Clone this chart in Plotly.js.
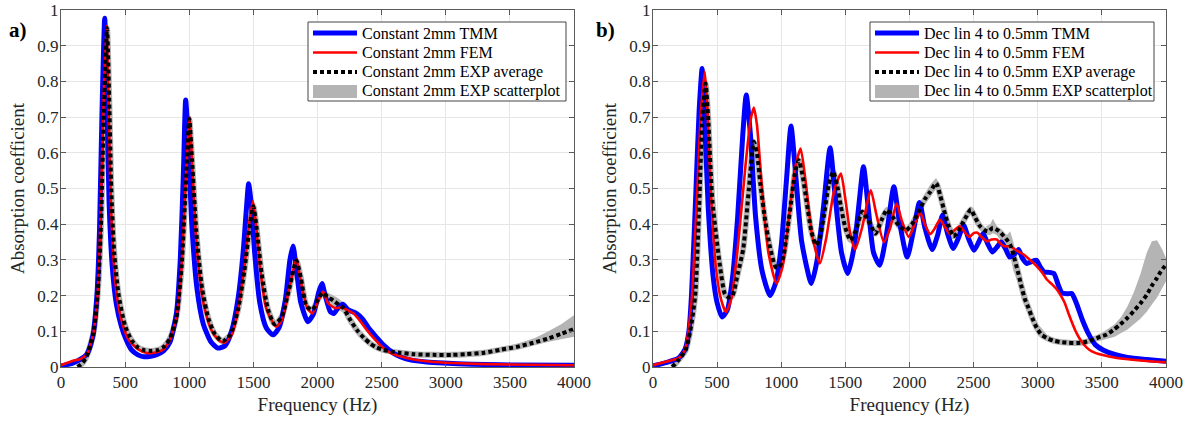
<!DOCTYPE html>
<html>
<head>
<meta charset="utf-8">
<script src="https://cdn.plot.ly/plotly-3.0.1.min.js"></script>
<style>html,body{margin:0;padding:0;background:#fff;}#chart{width:1190px;height:421px;}</style>
</head>
<body>
<div id="chart"></div>
<script>
// ---------------- Panel a) Constant 2mm ----------------
const a_tmm_f = [0,100,200,250,280,300,320,341,360,375,400,430,470,510,550,600,640,700,750,800,850,900,930,955,972,990,1020,1060,1110,1170,1224,1280,1330,1380,1420,1445,1463,1485,1510,1550,1600,1653,1700,1750,1785,1809,1830,1870,1925,1970,2010,2035,2060,2100,2127,2165,2197,2240,2300,2350,2410,2460,2513,2591,2650,2722,2850,2980,3200,3423,4000];
const a_tmm_y = [0.003,0.012,0.035,0.09,0.2,0.38,0.72,0.977,0.72,0.46,0.28,0.18,0.115,0.075,0.048,0.034,0.029,0.03,0.035,0.045,0.07,0.15,0.3,0.55,0.748,0.65,0.4,0.22,0.12,0.07,0.053,0.06,0.1,0.19,0.32,0.44,0.513,0.45,0.32,0.18,0.11,0.09,0.11,0.19,0.3,0.339,0.29,0.18,0.127,0.15,0.21,0.234,0.2,0.155,0.15,0.168,0.176,0.16,0.151,0.135,0.104,0.083,0.062,0.039,0.028,0.02,0.014,0.011,0.008,0.006,0.005];

const a_fem_f = [0,100,150,200,250,285,305,330,354,370,385,410,440,480,530,600,670,750,800,850,900,940,970,1003,1025,1060,1110,1170,1230,1276,1330,1380,1430,1470,1497,1520,1555,1600,1677,1720,1780,1835,1870,1920,1960,2000,2043,2080,2137,2190,2230,2276,2330,2384,2440,2487,2565,2695,2850,3000,3300,4000];
const a_fem_y = [0.005,0.018,0.022,0.035,0.09,0.2,0.38,0.72,0.955,0.75,0.5,0.3,0.19,0.12,0.075,0.05,0.039,0.042,0.05,0.075,0.14,0.28,0.5,0.70,0.55,0.33,0.18,0.105,0.075,0.068,0.09,0.16,0.28,0.41,0.465,0.4,0.27,0.165,0.113,0.13,0.22,0.302,0.24,0.165,0.15,0.18,0.211,0.18,0.165,0.167,0.16,0.151,0.13,0.104,0.08,0.062,0.04,0.025,0.016,0.012,0.008,0.005];

const a_exp_f = [130,170,200,250,285,310,335,359,378,392,415,450,500,550,600,650,700,750,800,850,900,940,972,1000,1022,1055,1100,1150,1200,1260,1320,1380,1430,1470,1500,1525,1565,1615,1665,1720,1780,1835,1870,1915,1960,2005,2040,2080,2124,2165,2202,2250,2306,2360,2410,2460,2513,2580,2643,2750,2902,3050,3163,3300,3423,3550,3683,3800,3900,4000];
const a_exp_y = [0.0,0.012,0.03,0.09,0.2,0.38,0.72,0.949,0.72,0.5,0.32,0.2,0.115,0.075,0.055,0.047,0.045,0.047,0.056,0.08,0.14,0.28,0.5,0.695,0.58,0.38,0.22,0.135,0.092,0.072,0.09,0.16,0.27,0.39,0.45,0.39,0.26,0.16,0.12,0.14,0.22,0.298,0.25,0.17,0.16,0.19,0.208,0.196,0.186,0.175,0.165,0.135,0.104,0.082,0.066,0.055,0.048,0.043,0.04,0.036,0.034,0.034,0.036,0.04,0.048,0.056,0.068,0.08,0.093,0.106];

// scatter band (wide parts)
const a_band1_f  = [2040,2080,2124,2165,2202,2250];
const a_band1_lo = [0.198,0.184,0.172,0.16,0.152,0.125];
const a_band1_hi = [0.218,0.208,0.2,0.192,0.18,0.145];
const a_band2_f  = [3500,3600,3700,3800,3900,4000];
const a_band2_lo = [0.05,0.057,0.063,0.07,0.078,0.085];
const a_band2_hi = [0.058,0.07,0.082,0.1,0.12,0.145];

// ---------------- Panel b) Dec lin 4 to 0.5mm ----------------
const b_tmm_f = [0,100,200,250,280,300,330,360,383,400,430,470,500,538,580,620,660,700,727,760,800,850,912,960,1000,1040,1076,1110,1160,1235,1280,1330,1381,1420,1470,1519,1570,1610,1641,1680,1720,1767,1820,1878,1920,1982,2030,2078,2120,2177,2220,2257,2300,2341,2380,2422,2460,2503,2540,2574,2610,2646,2680,2715,2750,2781,2815,2850,2880,2915,2950,2990,3020,3050,3090,3125,3160,3190,3230,3265,3300,3349,3400,3450,3513,3600,3700,3850,4000];
const b_tmm_y = [0.003,0.012,0.025,0.05,0.1,0.2,0.45,0.72,0.836,0.72,0.45,0.25,0.18,0.14,0.16,0.25,0.42,0.65,0.762,0.65,0.42,0.27,0.2,0.24,0.34,0.52,0.675,0.55,0.35,0.234,0.3,0.45,0.614,0.48,0.32,0.262,0.34,0.47,0.561,0.44,0.32,0.285,0.37,0.505,0.41,0.308,0.38,0.461,0.39,0.329,0.37,0.425,0.37,0.332,0.36,0.397,0.36,0.327,0.35,0.374,0.345,0.322,0.335,0.35,0.33,0.308,0.315,0.329,0.305,0.29,0.295,0.299,0.28,0.266,0.265,0.262,0.23,0.207,0.205,0.206,0.18,0.131,0.09,0.062,0.047,0.035,0.027,0.021,0.016];

const b_fem_f = [0,100,200,250,300,340,375,404,425,450,490,530,568,610,660,720,760,786,810,850,900,963,1010,1060,1110,1151,1190,1240,1301,1350,1410,1465,1500,1540,1576,1630,1698,1740,1800,1850,1899,1940,1994,2040,2084,2120,2162,2200,2237,2280,2317,2355,2392,2430,2467,2500,2530,2560,2603,2640,2681,2710,2740,2785,2840,2890,2940,2993,3040,3071,3110,3149,3180,3210,3240,3270,3300,3331,3380,3422,3500,3617,3800,4000];
const b_fem_y = [0.005,0.015,0.025,0.05,0.18,0.45,0.72,0.827,0.72,0.5,0.28,0.19,0.154,0.19,0.33,0.56,0.69,0.727,0.68,0.5,0.32,0.234,0.28,0.42,0.56,0.612,0.52,0.37,0.29,0.36,0.49,0.542,0.47,0.37,0.329,0.39,0.495,0.43,0.35,0.39,0.458,0.41,0.364,0.40,0.432,0.4,0.372,0.39,0.413,0.39,0.372,0.385,0.394,0.378,0.364,0.375,0.376,0.365,0.352,0.357,0.357,0.345,0.338,0.338,0.325,0.315,0.3,0.282,0.262,0.245,0.232,0.217,0.2,0.18,0.15,0.122,0.097,0.077,0.055,0.044,0.034,0.025,0.018,0.013];

const b_exp_f = [150,200,254,290,329,360,385,410,430,463,523,560,590,620,660,703,748,786,810,837,875,912,957,985,1017,1050,1076,1105,1136,1165,1196,1235,1271,1300,1331,1370,1405,1435,1465,1500,1540,1580,1630,1680,1734,1780,1824,1870,1920,1973,2020,2078,2120,2160,2208,2240,2278,2310,2343,2380,2408,2440,2478,2510,2551,2586,2616,2650,2700,2750,2785,2824,2850,2876,2900,2928,2960,2993,3030,3071,3120,3175,3240,3305,3370,3435,3490,3539,3590,3643,3700,3747,3800,3851,3890,3929,3960,4000];
const b_exp_y = [0.0,0.02,0.047,0.1,0.2,0.45,0.7,0.794,0.7,0.467,0.28,0.205,0.195,0.2,0.26,0.33,0.5,0.631,0.6,0.514,0.41,0.336,0.28,0.28,0.31,0.39,0.46,0.54,0.579,0.54,0.467,0.38,0.341,0.36,0.42,0.51,0.547,0.51,0.449,0.39,0.355,0.38,0.435,0.41,0.374,0.41,0.44,0.42,0.395,0.383,0.4,0.44,0.47,0.49,0.515,0.48,0.427,0.39,0.366,0.38,0.399,0.42,0.441,0.42,0.394,0.383,0.38,0.39,0.38,0.36,0.343,0.296,0.26,0.221,0.19,0.165,0.135,0.109,0.09,0.081,0.074,0.07,0.068,0.067,0.07,0.077,0.085,0.091,0.104,0.119,0.138,0.156,0.178,0.203,0.228,0.249,0.268,0.287];

const b_band1_f  = [2120,2160,2208,2240,2278,2310];
const b_band1_lo = [0.455,0.475,0.5,0.465,0.415,0.38];
const b_band1_hi = [0.485,0.51,0.53,0.5,0.44,0.4];
const b_band2_f  = [2600,2630,2650,2680,2720,2760,2785,2810,2850,2876,2928,2993,3071,3150];
const b_band2_lo = [0.37,0.37,0.375,0.37,0.35,0.33,0.31,0.27,0.23,0.19,0.145,0.095,0.073,0.066];
const b_band2_hi = [0.395,0.4,0.415,0.395,0.375,0.37,0.38,0.35,0.29,0.25,0.185,0.125,0.09,0.078];
const b_band3_f  = [3400,3500,3600,3650,3700,3750,3800,3850,3890,3930,3970,4000];
const b_band3_lo = [0.068,0.075,0.085,0.095,0.105,0.12,0.135,0.155,0.175,0.195,0.22,0.24];
const b_band3_hi = [0.08,0.095,0.12,0.14,0.17,0.21,0.26,0.32,0.352,0.355,0.33,0.305];

const namesA = ['Constant 2mm TMM','Constant 2mm FEM','Constant 2mm EXP average','Constant 2mm EXP scatterplot'];
const namesB = ['Dec lin 4 to 0.5mm TMM','Dec lin 4 to 0.5mm FEM','Dec lin 4 to 0.5mm EXP average','Dec lin 4 to 0.5mm EXP scatterplot'];

const BLUE='#0000ff', RED='#ff0000', GRAY='#b4b4b4', BLACK='#000000';
const FONT='"Liberation Serif", "Times New Roman", Times, serif';
const DOT='4px,3px';

function bandPoly(f, lo, hi){
  return {x: f.concat(f.slice().reverse()), y: hi.concat(lo.slice().reverse())};
}

function panel(xa, ya, names, tf, ty, ff, fy, ef, ey, bands){
  const tr = [];
  bands.forEach((b) => {
    const p = bandPoly(b[0], b[1], b[2]);
    tr.push({x:p.x, y:p.y, xaxis:xa, yaxis:ya, type:'scatter', mode:'lines', fill:'toself',
      fillcolor:GRAY, line:{width:0, color:GRAY}, name:names[3], hoverinfo:'skip'});
  });
  tr.push({x:ef, y:ey, xaxis:xa, yaxis:ya, type:'scatter', mode:'lines', name:names[3],
    line:{color:GRAY, width:6, shape:'spline', smoothing:0.6}, hoverinfo:'skip'});
  tr.push({x:tf, y:ty, xaxis:xa, yaxis:ya, type:'scatter', mode:'lines', name:names[0],
    line:{color:BLUE, width:5, shape:'spline', smoothing:0.6}});
  tr.push({x:ff, y:fy, xaxis:xa, yaxis:ya, type:'scatter', mode:'lines', name:names[1],
    line:{color:RED, width:2.6, shape:'spline', smoothing:0.6}});
  tr.push({x:ef, y:ey, xaxis:xa, yaxis:ya, type:'scatter', mode:'lines', name:names[2],
    line:{color:BLACK, width:4, dash:DOT, shape:'spline', smoothing:0.6}});
  return tr;
}

const data = [].concat(
  panel('x','y', namesA, a_tmm_f, a_tmm_y, a_fem_f, a_fem_y, a_exp_f, a_exp_y,
        [[a_band1_f,a_band1_lo,a_band1_hi],[a_band2_f,a_band2_lo,a_band2_hi]]),
  panel('x2','y2', namesB, b_tmm_f, b_tmm_y, b_fem_f, b_fem_y, b_exp_f, b_exp_y,
        [[b_band1_f,b_band1_lo,b_band1_hi],[b_band2_f,b_band2_lo,b_band2_hi],[b_band3_f,b_band3_lo,b_band3_hi]])
);

const W=1190, H=421;
const px = v => v/W, py = v => 1 - v/H;
const yDom = [(H-367)/H, (H-10)/H];
function xax(dom, anchor){
  return {domain:dom, anchor:anchor, range:[0,4000], dtick:500, tick0:0,
    showline:true, mirror:'ticks', linecolor:'#5a5a5a', linewidth:1,
    ticks:'inside', ticklen:5, tickcolor:'#5a5a5a',
    showgrid:true, gridcolor:'#e6e6e6', gridwidth:1, zeroline:false,
    tickfont:{family:FONT, size:17, color:'#262626'},
    title:{text:'Frequency (Hz)', font:{family:FONT, size:19, color:'#262626'}, standoff:6}};
}
function yax(anchor){
  return {domain:yDom, anchor:anchor, range:[0,1], dtick:0.1, tick0:0,
    showline:true, mirror:'ticks', linecolor:'#5a5a5a', linewidth:1,
    ticks:'inside', ticklen:5, tickcolor:'#5a5a5a',
    showgrid:true, gridcolor:'#e6e6e6', gridwidth:1, zeroline:false,
    tickfont:{family:FONT, size:17, color:'#262626'}, ticklabelstandoff:-2,
    title:{text:'Absorption coefficient', font:{family:FONT, size:19, color:'#262626'}, standoff:7}};
}

// manual legends (box, samples, labels) in pixel geometry
const shapes = [], annotations = [];
function legendBox(x0, x1, y0, y1, names){
  shapes.push({type:'rect', xref:'paper', yref:'paper', x0:px(x0), x1:px(x1), y0:py(y0), y1:py(y1),
    fillcolor:'#ffffff', line:{color:'#444444', width:1}});
  const rows = [33, 52.5, 72, 91.5];
  const sx0 = x0 + 5, sx1 = x0 + 49;
  const styles = [{color:BLUE, width:5}, {color:RED, width:2.6}, {color:BLACK, width:4, dash:DOT}];
  styles.forEach((s, i) => {
    shapes.push({type:'line', xref:'paper', yref:'paper', x0:px(sx0), x1:px(sx1), y0:py(rows[i]), y1:py(rows[i]), line:s});
  });
  shapes.push({type:'rect', xref:'paper', yref:'paper', x0:px(sx0), x1:px(sx1), y0:py(rows[3]-6.5), y1:py(rows[3]+6.5),
    fillcolor:GRAY, line:{width:0}});
  names.forEach((n, i) => {
    annotations.push({text:n, xref:'paper', yref:'paper', x:px(x0+52), y:py(rows[i]), xanchor:'left', yanchor:'middle',
      showarrow:false, font:{family:FONT, size:16, color:'#000'}});
  });
}
legendBox(308, 566, 22, 101, namesA);
legendBox(870, 1154, 22, 101, namesB);

annotations.push({text:'<b>a)</b>', xref:'paper', yref:'paper', x:px(7), y:py(30), xanchor:'left', yanchor:'middle', showarrow:false,
  font:{family:FONT, size:21, color:'#000'}});
annotations.push({text:'<b>b)</b>', xref:'paper', yref:'paper', x:px(594), y:py(30), xanchor:'left', yanchor:'middle', showarrow:false,
  font:{family:FONT, size:21, color:'#000'}});

const layout = {
  width:W, height:H, margin:{l:0,r:0,t:0,b:0}, paper_bgcolor:'#ffffff', plot_bgcolor:'#ffffff',
  showlegend:false,
  xaxis: xax([61/W, 574/W], 'y'),
  yaxis: yax('x'),
  xaxis2: xax([653/W, 1166/W], 'y2'),
  yaxis2: yax('x2'),
  shapes: shapes,
  annotations: annotations
};

Plotly.newPlot('chart', data, layout, {displayModeBar:false, staticPlot:true});
</script>
</body>
</html>
